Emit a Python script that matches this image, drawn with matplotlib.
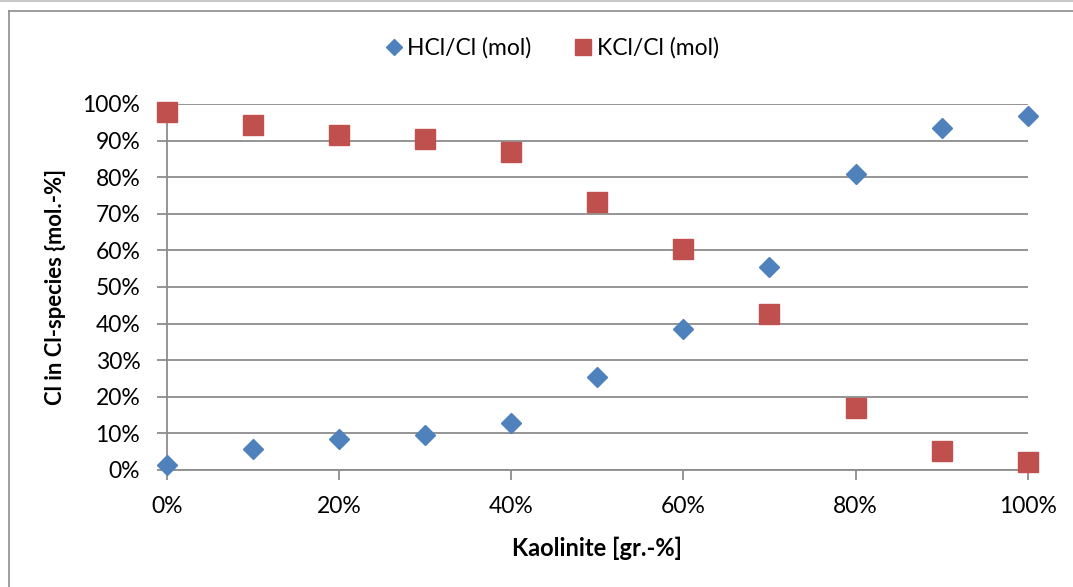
import matplotlib
matplotlib.use("Agg")
import matplotlib.pyplot as plt
from matplotlib.lines import Line2D
from matplotlib.ticker import PercentFormatter, MultipleLocator

# Kaolinite share in the fuel blend (fraction)
kaolinite = [0.0, 0.1, 0.2, 0.3, 0.4, 0.5, 0.6, 0.7, 0.8, 0.9, 1.0]
# Chlorine distribution over species (fraction of total Cl)
hcl_cl = [0.014, 0.057, 0.085, 0.096, 0.129, 0.255, 0.384, 0.554, 0.809, 0.935, 0.967]
kcl_cl = [0.977, 0.943, 0.914, 0.904, 0.869, 0.731, 0.603, 0.426, 0.170, 0.052, 0.021]

series_names = ["HCl/Cl (mol)", "KCl/Cl (mol)"]
x_label = "Kaolinite [gr.-%]"
y_label = "Cl in Cl-species {mol.-%]"

blue = "#4F81BD"
red = "#C0504D"
grid_grey = "#8C8C8C"

plt.rcParams["font.family"] = ["Lato", "DejaVu Sans"]

W, H, DPI = 1073, 587, 100
fig = plt.figure(figsize=(W / DPI, H / DPI), dpi=DPI)

# outer chart frame (clipped at the right and bottom edges)
fig.add_artist(Line2D([0, 1], [1 - 0.5 / H, 1 - 0.5 / H], color="#BFBFBF", lw=1.2,
                      transform=fig.transFigure))
fig.add_artist(Line2D([8.5 / W, 8.5 / W], [0, 1 - 10.5 / H], color="#8C8C8C", lw=1.2,
                      transform=fig.transFigure))
fig.add_artist(Line2D([8.5 / W, 1], [1 - 10.5 / H, 1 - 10.5 / H], color="#8C8C8C", lw=1.2,
                      transform=fig.transFigure))

left, right = 166.7 / W, 1027.7 / W
bottom, top = 1 - 470 / H, 1 - 104 / H
ax = fig.add_axes([left, bottom, right - left, top - bottom])

ax.plot(kaolinite, hcl_cl, linestyle="none", marker="D", markersize=10.3,
        color=blue, markeredgecolor=blue, label=series_names[0], clip_on=False, zorder=3)
ax.plot(kaolinite, kcl_cl, linestyle="none", marker="s", markersize=14.2,
        color=red, markeredgecolor=red, label=series_names[1], clip_on=False, zorder=3)

ax.set_xlim(0, 1)
ax.set_ylim(0, 1)
ax.xaxis.set_major_locator(MultipleLocator(0.2))
ax.yaxis.set_major_locator(MultipleLocator(0.1))
ax.xaxis.set_major_formatter(PercentFormatter(1.0, decimals=0))
ax.yaxis.set_major_formatter(PercentFormatter(1.0, decimals=0))

ax.grid(axis="y", color=grid_grey, lw=1.3)
ax.set_axisbelow(True)
for s in ["top", "right"]:
    ax.spines[s].set_visible(False)
for s in ["left", "bottom"]:
    ax.spines[s].set_color(grid_grey)
    ax.spines[s].set_linewidth(1.3)

fs = 16.5
ax.tick_params(axis="both", direction="out", length=7, width=1.3, color=grid_grey,
               labelsize=fs, labelcolor="black")
ax.tick_params(axis="x", pad=12)
ax.tick_params(axis="y", pad=12)

ax.set_xlabel(x_label, fontsize=17, fontweight="bold", labelpad=14)
ax.set_ylabel(y_label, fontsize=15.8, fontweight="bold", labelpad=12)

fig.legend(loc="center", bbox_to_anchor=(550 / W, 1 - 48 / H), ncol=2, frameon=False,
           fontsize=fs, handletextpad=0.05, columnspacing=1.7, handlelength=1.1,
           markerscale=0.8)

fig.savefig("out.png", dpi=DPI, facecolor="white")
